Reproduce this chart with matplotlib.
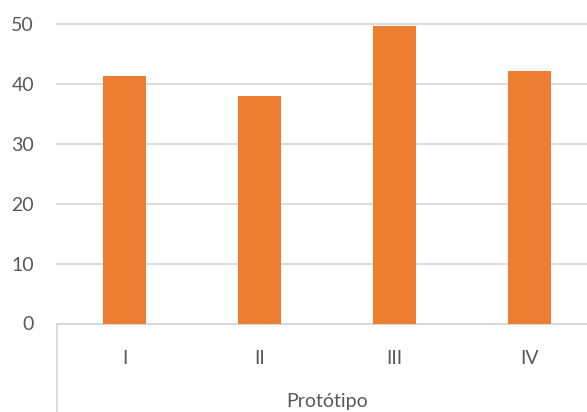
import matplotlib
matplotlib.use("Agg")
import matplotlib.pyplot as plt
from matplotlib.transforms import blended_transform_factory

categories = ["I", "II", "III", "IV"]
values = [41.3, 38.0, 49.7, 42.2]
group_label = "Protótipo"
y_ticks = [0, 10, 20, 30, 40, 50]

plt.rcParams["font.family"] = ["Lato", "DejaVu Sans"]
text_color = "#595959"
grid_color = "#D9D9D9"
bar_color = "#ED7D31"

W, H = 587, 412
fig = plt.figure(figsize=(W / 100, H / 100), dpi=100)
left, right = 57, 597
bottom_px, top_px = 323.5, 24
ax = fig.add_axes([left / W, (H - bottom_px) / H, (right - left) / W, (bottom_px - top_px) / H])

x = list(range(len(categories)))
ax.bar(x, values, width=0.315, color=bar_color, zorder=3)

ax.set_xlim(-0.5, len(categories) - 0.5)
ax.set_ylim(0, 50)
ax.set_yticks(y_ticks)
ax.set_yticklabels([str(v) for v in y_ticks], fontsize=14, color=text_color)
ax.tick_params(axis="y", length=0, pad=16.5)
ax.set_xticks(x)
ax.set_xticklabels(categories, fontsize=14, color=text_color)
ax.tick_params(axis="x", length=0, pad=19)

ax.grid(axis="y", color=grid_color, linewidth=1.3, zorder=0)
for s in ["left", "right", "top"]:
    ax.spines[s].set_visible(False)
ax.spines["bottom"].set_color(grid_color)
ax.spines["bottom"].set_linewidth(1.3)
for gl in ax.get_ygridlines():
    gl.set_clip_on(False)

# group separators below the category axis
trans = blended_transform_factory(ax.transData, ax.transAxes)
depth = -(H - bottom_px) / (bottom_px - top_px)
for xs in [-0.5, len(categories) - 0.5]:
    ax.plot([xs, xs], [0, depth], transform=trans, color=grid_color,
            linewidth=1.3, clip_on=False, zorder=1)

# group label
ax.text((len(categories) - 1) / 2, -(401 - bottom_px) / (bottom_px - top_px), group_label,
        transform=trans, ha="center", va="center", fontsize=14, color=text_color)

fig.savefig("out.png", dpi=100)
